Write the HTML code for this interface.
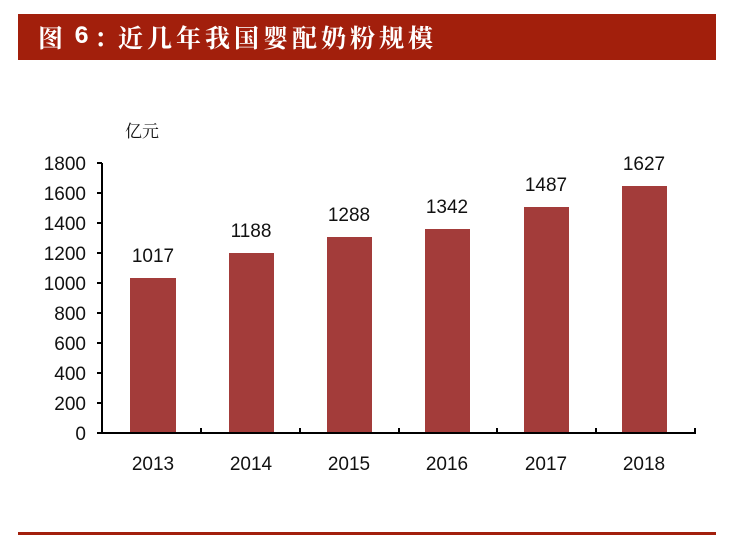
<!DOCTYPE html>
<html><head><meta charset="utf-8"><style>
body{margin:0;width:729px;height:536px;background:#fff;overflow:hidden;position:relative;font-family:"Liberation Sans","Noto Sans CJK SC",sans-serif}
.t{position:absolute;left:18px;top:14px;width:698px;height:46px;background:#a21f0c;color:#fff;font-family:"Noto Serif CJK SC",serif;font-size:25px;font-weight:bold;line-height:46px}
.t span{position:absolute;top:0;white-space:nowrap}
.b{position:absolute;left:18px;top:532px;width:698px;height:3px;background:#a21f0c}
</style></head><body>
<div class="t"><span style="left:20px">图</span><span style="left:56px;font-family:'Liberation Mono',monospace">6</span><span style="left:76px">：</span><span style="left:100px;letter-spacing:4px">近几年我国婴配奶粉规模</span></div>
<svg width="729" height="536" style="position:absolute;left:0;top:0">
<g font-family="Liberation Sans, sans-serif" font-size="19" fill="#111">
<text x="125" y="137" font-size="17" font-family="Noto Serif CJK SC, serif">亿元</text>
<g text-anchor="end">
<text x="86" y="440">0</text><text x="86" y="410">200</text><text x="86" y="380">400</text><text x="86" y="350">600</text><text x="86" y="320">800</text><text x="86" y="290">1000</text><text x="86" y="260">1200</text><text x="86" y="230">1400</text><text x="86" y="200">1600</text><text x="86" y="170">1800</text>
</g>
<g fill="#a33c3a">
<rect x="130" y="278" width="46" height="155"/>
<rect x="229" y="253" width="45" height="180"/>
<rect x="327" y="237" width="45" height="196"/>
<rect x="425" y="229" width="45" height="204"/>
<rect x="524" y="207" width="45" height="226"/>
<rect x="622" y="186" width="45" height="247"/>
</g>
<g text-anchor="middle">
<text x="153" y="262">1017</text><text x="251" y="237">1188</text><text x="349" y="221">1288</text><text x="447" y="213">1342</text><text x="546" y="191">1487</text><text x="644" y="170">1627</text>
<text x="153" y="470">2013</text><text x="251" y="470">2014</text><text x="349" y="470">2015</text><text x="447" y="470">2016</text><text x="546" y="470">2017</text><text x="644" y="470">2018</text>
</g>
</g>
<g stroke="#000" stroke-width="2" fill="none">
<path d="M102 163V433H696"/>
<path d="M97 163H102M97 193H102M97 223H102M97 253H102M97 283H102M97 313H102M97 343H102M97 373H102M97 403H102M97 433H102"/>
<path d="M201 428V433M300 428V433M399 428V433M497 428V433M596 428V433M695 428V433"/>
</g>
</svg>
<div class="b"></div>
</body></html>
